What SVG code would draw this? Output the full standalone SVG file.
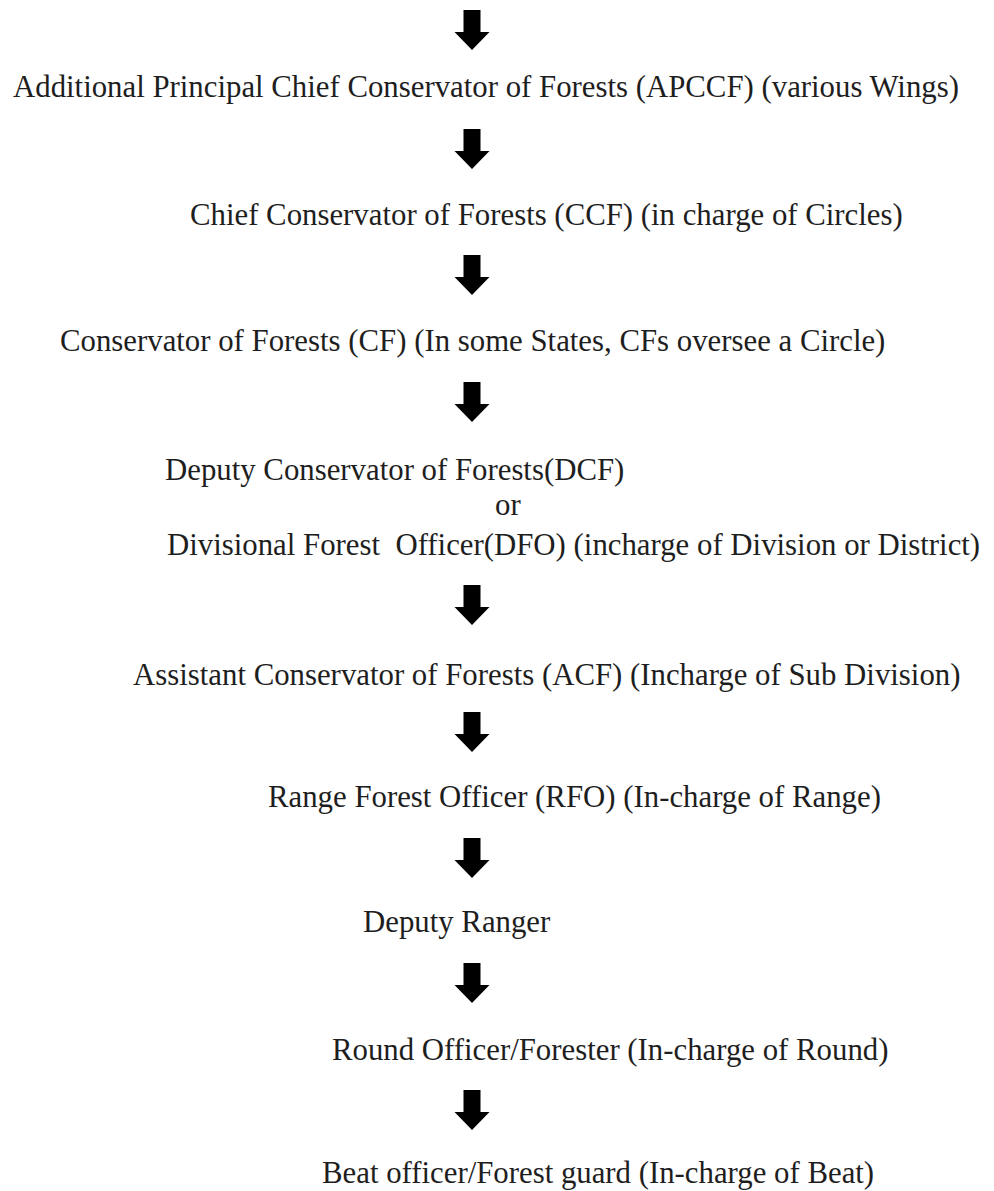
<svg xmlns="http://www.w3.org/2000/svg" xmlns:xlink="http://www.w3.org/1999/xlink" width="994" height="1191" viewBox="0 0 994 1191">
<style>
text{font-family:"Liberation Serif","Times New Roman",serif;font-size:30.8px;fill:#1e1e1e;white-space:pre}
.arrow{fill:#000}
</style>
<defs>
<path id="arr" class="arrow" d="M-8.5,0 H8.5 V22 H17.5 L0,40 L-17.5,22 H-8.5 Z"/>
</defs>
<rect width="994" height="1191" fill="#fff"/>
<g id="connectors">
<use xlink:href="#arr" href="#arr" x="472" y="10"/>
<use xlink:href="#arr" href="#arr" x="472" y="129"/>
<use xlink:href="#arr" href="#arr" x="472" y="255"/>
<use xlink:href="#arr" href="#arr" x="472" y="382"/>
<use xlink:href="#arr" href="#arr" x="472" y="585"/>
<use xlink:href="#arr" href="#arr" x="472" y="712"/>
<use xlink:href="#arr" href="#arr" x="472" y="838"/>
<use xlink:href="#arr" href="#arr" x="472" y="963"/>
<use xlink:href="#arr" href="#arr" x="472" y="1090"/>
</g>
<g id="apccf"><text x="13" y="97">Additional Principal Chief Conservator of Forests (APCCF) (various Wings)</text></g>
<g id="ccf"><text x="190" y="225">Chief Conservator of Forests (CCF) (in charge of Circles)</text></g>
<g id="cf"><text x="60" y="351">Conservator of Forests (CF) (In some States, CFs oversee a Circle)</text></g>
<g id="dcf-dfo">
<text x="165" y="480">Deputy Conservator of Forests(DCF)</text>
<text x="495" y="515">or</text>
<text x="167" y="555">Divisional Forest  Officer(DFO) (incharge of Division or District)</text>
</g>
<g id="acf"><text x="133" y="685">Assistant Conservator of Forests (ACF) (Incharge of Sub Division)</text></g>
<g id="rfo"><text x="268" y="807">Range Forest Officer (RFO) (In-charge of Range)</text></g>
<g id="deputy-ranger"><text x="363" y="932">Deputy Ranger</text></g>
<g id="forester"><text x="332" y="1060">Round Officer/Forester (In-charge of Round)</text></g>
<g id="forest-guard"><text x="322" y="1183">Beat officer/Forest guard (In-charge of Beat)</text></g>
</svg>
